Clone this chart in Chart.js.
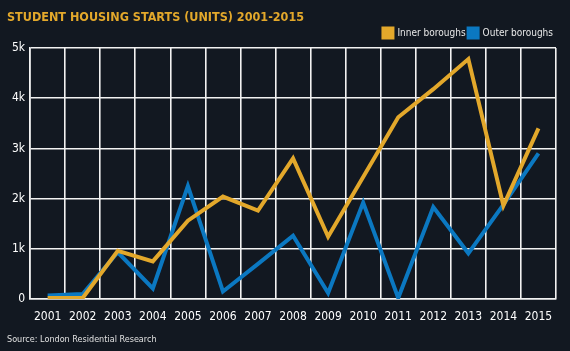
<!DOCTYPE html>
<html>
<head>
<meta charset="utf-8">
<script src="https://cdn.jsdelivr.net/npm/chart.js@4"></script>
<style>
  html, body { margin: 0; padding: 0; background: #121821; }
  #wrap { width: 570px; height: 351px; position: relative; }
</style>
</head>
<body>
<div id="wrap"><canvas id="chart"></canvas></div>
<script>
// data
const years = ['2001','2002','2003','2004','2005','2006','2007','2008','2009','2010','2011','2012','2013','2014','2015'];
const innerBoroughs = [20, 20, 960, 750, 1560, 2040, 1760, 2800, 1240, 2430, 3620, 4180, 4780, 1860, 3400];
const outerBoroughs = [70, 100, 930, 210, 2250, 150, 700, 1260, 120, 1920, 20, 1830, 910, 1880, 2900];
const yTicks = [0, 1000, 2000, 3000, 4000, 5000];

const ORANGE = '#e3a82b';
const BLUE = '#0b78c1';
const FONT = '"DejaVu Sans Condensed", "DejaVu Sans", sans-serif';

Chart.defaults.font.family = FONT;
Chart.defaults.color = '#ffffff';

const ctx = document.getElementById('chart').getContext('2d');
new Chart(ctx, {
    type: 'line',
    data: {
        labels: years,
        datasets: [{
            label: 'Inner boroughs',
            data: innerBoroughs,
            borderColor: ORANGE,
            backgroundColor: ORANGE,
            borderWidth: 4,
            pointRadius: 0,
            tension: 0
        }, {
            label: 'Outer boroughs',
            data: outerBoroughs,
            borderColor: BLUE,
            backgroundColor: BLUE,
            borderWidth: 4,
            pointRadius: 0,
            tension: 0
        }]
    },
    options: {
        responsive: true,
        maintainAspectRatio: false,
        animation: false,
        layout: { padding: { left: 7, right: 14, top: 0, bottom: 3 } },
        scales: {
            x: {
                offset: true,
                grid: { color: '#f2f2f2', lineWidth: 1.6, offset: true, drawTicks: false },
                border: { color: '#f2f2f2', width: 1.6 },
                ticks: { color: '#ffffff', font: { size: 12, lineHeight: 1 }, padding: 12, maxRotation: 0, autoSkip: false }
            },
            y: {
                min: 0,
                max: 5000,
                afterBuildTicks: axis => { axis.ticks = yTicks.map(v => ({ value: v })); },
                grid: { color: '#f2f2f2', lineWidth: 1.6, drawTicks: false },
                border: { color: '#f2f2f2', width: 1.6 },
                ticks: {
                    color: '#ffffff',
                    font: { size: 12 },
                    padding: 5,
                    callback: v => v === 0 ? '0' : (v / 1000) + 'k'
                }
            }
        },
        plugins: {
            title: {
                display: true,
                text: 'STUDENT HOUSING STARTS (UNITS) 2001-2015',
                align: 'start',
                color: ORANGE,
                font: { size: 12.5, weight: 'bold' },
                padding: { top: 10, bottom: 0 }
            },
            legend: {
                position: 'top',
                align: 'end',
                labels: {
                    color: '#e8e8e8',
                    font: { size: 10 },
                    boxWidth: 9,
                    boxHeight: 9,
                    padding: 3
                }
            },
            subtitle: {
                display: true,
                position: 'bottom',
                align: 'start',
                text: 'Source: London Residential Research',
                color: '#e0e0e0',
                font: { size: 9, lineHeight: 1 },
                padding: { top: 0, bottom: 4 }
            },
            tooltip: { enabled: false }
        }
    }
});
</script>
</body>
</html>
